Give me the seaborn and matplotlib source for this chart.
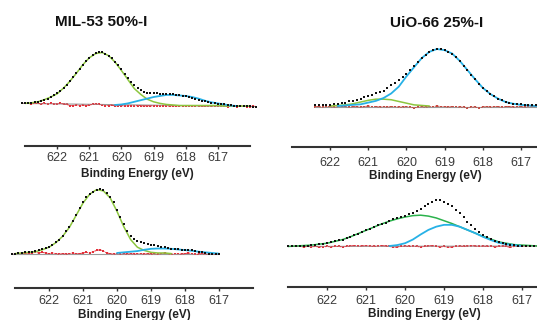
import numpy as np
import matplotlib
matplotlib.use("Agg")
import matplotlib.pyplot as plt
import seaborn as sns

# XPS I 3d fits, intensities normalised to the main peak (baseline ~0)
titles = ["MIL-53 50%-I", "UiO-66 25%-I", "", ""]
ticks = [622, 621, 620, 619, 618, 617]

# measured points (0.1 eV step), first energy given separately
raw_start = [623.1, 622.4, 623.1, 623.0]
raw_1 = [0.03, 0.03, 0.03, 0.04, 0.05, 0.06, 0.08, 0.10, 0.12, 0.15, 0.18, 0.22, 0.27, 0.32, 0.38,
         0.45, 0.52, 0.60, 0.68, 0.76, 0.83, 0.89, 0.94, 0.98, 1.00, 1.00, 0.97, 0.93, 0.88, 0.82,
         0.75, 0.67, 0.59, 0.51, 0.44, 0.38, 0.32, 0.28, 0.25, 0.23, 0.22, 0.22, 0.22, 0.21, 0.21,
         0.21, 0.20, 0.20, 0.19, 0.18, 0.17, 0.16, 0.15, 0.13, 0.11, 0.10, 0.08, 0.07, 0.05, 0.04,
         0.03, 0.02, 0.02, 0.01, 0.00, 0.00, -0.01, -0.01, -0.02, -0.02, -0.02, -0.02, -0.03, -0.03]
raw_2 = [0.01, 0.01, 0.01, 0.02, 0.02, 0.03, 0.04, 0.05, 0.06, 0.08, 0.09, 0.11, 0.13, 0.15, 0.17,
         0.19, 0.22, 0.24, 0.27, 0.31, 0.36, 0.40, 0.46, 0.51, 0.57, 0.63, 0.70, 0.77, 0.84, 0.90,
         0.94, 0.98, 1.00, 1.00, 0.98, 0.95, 0.92, 0.86, 0.79, 0.71, 0.63, 0.55, 0.47, 0.39, 0.32,
         0.26, 0.21, 0.17, 0.13, 0.10, 0.07, 0.06, 0.04, 0.03, 0.03, 0.02, 0.02, 0.01, 0.01, 0.01,
         0.01, 0.01, 0.01, 0.01, 0.01]
raw_3 = [-0.01, -0.01, 0.00, 0.00, 0.01, 0.01, 0.02, 0.03, 0.04, 0.06, 0.08, 0.10, 0.13, 0.17, 0.21,
         0.27, 0.34, 0.41, 0.50, 0.60, 0.70, 0.79, 0.87, 0.92, 0.96, 0.99, 1.00, 0.98, 0.94, 0.87,
         0.79, 0.67, 0.56, 0.45, 0.35, 0.27, 0.22, 0.19, 0.17, 0.15, 0.14, 0.13, 0.12, 0.11, 0.10,
         0.09, 0.08, 0.07, 0.07, 0.06, 0.05, 0.05, 0.04, 0.04, 0.03, 0.02, 0.01, 0.00, -0.01, -0.02,
         -0.02, -0.01]
raw_4 = [-0.01, -0.01, 0.00, 0.00, 0.01, 0.01, 0.02, 0.03, 0.04, 0.05, 0.06, 0.08, 0.10, 0.12, 0.14,
         0.17, 0.20, 0.23, 0.27, 0.30, 0.34, 0.37, 0.41, 0.45, 0.48, 0.51, 0.55, 0.58, 0.61, 0.64,
         0.66, 0.69, 0.72, 0.76, 0.81, 0.87, 0.92, 0.96, 0.99, 0.99, 0.96, 0.92, 0.86, 0.79, 0.71,
         0.62, 0.53, 0.45, 0.37, 0.30, 0.25, 0.20, 0.15, 0.11, 0.08, 0.06, 0.04, 0.03, 0.02, 0.01,
         0.01, 0.00, 0.00, 0.00, -0.01, -0.01, -0.01, -0.01, -0.01, -0.01, -0.01]

# residuals (0.1 eV step, same start as raw)
res_1 = [0.03, 0.03, 0.03, 0.02, 0.03, 0.03, 0.02, 0.03, 0.02, 0.03, 0.02, 0.02, 0.03, 0.02, 0.01,
         -0.01, -0.01, 0.00, -0.01, 0.00, -0.01, 0.00, 0.01, 0.02, 0.01, 0.00, -0.01, -0.01, 0.00, -0.02,
         -0.01, -0.01, -0.02, -0.01, -0.01, -0.02, -0.01, -0.01, -0.02, -0.01, -0.02, -0.01, -0.01, -0.02,
         -0.01, -0.02, -0.02, -0.01, -0.02, -0.01, -0.02, -0.02, -0.01, -0.02, -0.02, -0.01, -0.02, -0.02,
         -0.01, -0.02, -0.02, -0.02, -0.01, -0.02, -0.03, -0.02, -0.02, -0.03, -0.02, -0.02, -0.03, -0.03,
         -0.02, -0.03]
res_2 = [-0.01, -0.01, -0.02, -0.01, -0.01, -0.02, -0.01, 0.00, -0.01, -0.02, -0.01, -0.01, -0.02, -0.01,
         0.00, -0.01, -0.01, -0.02, -0.01, -0.02, -0.01, -0.01, -0.02, -0.02, -0.01, -0.02, -0.03, -0.02,
         -0.01, -0.02, -0.01, -0.01, 0.00, -0.01, -0.01, -0.02, -0.01, -0.01, -0.02, -0.02, -0.03, -0.02,
         -0.02, -0.03, -0.02, -0.01, -0.02, -0.01, -0.01, -0.02, -0.01, -0.01, -0.02, -0.01, -0.01, -0.02,
         -0.01, -0.01, -0.01, -0.01, -0.02, -0.01, -0.01, -0.01, -0.01]
res_3 = [-0.01, -0.01, 0.00, -0.01, 0.00, -0.01, 0.00, 0.01, 0.00, 0.01, 0.00, -0.01, 0.00, -0.01, -0.02,
         -0.01, -0.02, -0.01, 0.00, -0.01, -0.01, 0.00, 0.01, 0.00, 0.02, 0.04, 0.05, 0.03, 0.00, -0.01,
         -0.02, -0.01, -0.02, -0.01, -0.02, -0.01, -0.02, -0.01, -0.01, -0.02, -0.01, -0.02, -0.01, -0.02,
         -0.01, 0.00, -0.01, -0.02, -0.01, -0.01, -0.02, -0.01, 0.00, -0.01, -0.02, -0.02, -0.01, -0.02,
         -0.01, -0.02, -0.02, -0.01]
res_4 = [-0.01, -0.01, 0.00, -0.01, -0.02, -0.01, -0.02, -0.01, -0.02, -0.02, -0.01, -0.02, -0.01, -0.01,
         -0.02, -0.01, 0.00, 0.01, 0.00, 0.00, 0.01, 0.00, -0.01, 0.00, 0.01, 0.00, -0.01, -0.03, -0.02,
         -0.01, 0.00, -0.01, 0.00, -0.01, -0.02, -0.01, 0.00, 0.01, -0.01, -0.02, -0.01, -0.03, -0.02,
         -0.01, 0.00, -0.01, 0.00, 0.01, 0.00, -0.01, 0.00, -0.01, 0.00, -0.02, -0.01, 0.00, -0.01, -0.03,
         -0.01, 0.00, -0.01, 0.00, 0.01, 0.00, 0.00, -0.01, 0.00, 0.00, -0.01, -0.01, 0.00]

# fitted components (0.2 eV step)
green_start = [623.0, 622.0, 623.0, 623.0]
green_1 = [0.03, 0.04, 0.06, 0.10, 0.15, 0.21, 0.32, 0.45, 0.60, 0.76, 0.89, 0.97, 0.99, 0.93, 0.81,
           0.65, 0.48, 0.31, 0.20, 0.11, 0.06, 0.03, 0.01, 0.00, -0.01, -0.01, -0.01, -0.01, -0.01,
           -0.01, -0.01, -0.02, -0.02, -0.02, -0.02, -0.02]
green_2 = [0.00, 0.01, 0.02, 0.04, 0.07, 0.10, 0.12, 0.12, 0.11, 0.08, 0.05, 0.02, 0.01, 0.00]
green_3 = [-0.01, 0.00, 0.01, 0.02, 0.05, 0.09, 0.16, 0.26, 0.40, 0.59, 0.78, 0.92, 0.99, 0.97, 0.86,
           0.65, 0.41, 0.21, 0.09, 0.04, 0.01, 0.00, 0.00, -0.01]
green_4 = [-0.01, 0.00, 0.01, 0.02, 0.04, 0.06, 0.10, 0.14, 0.20, 0.27, 0.34, 0.41, 0.48, 0.54, 0.59,
           0.63, 0.66, 0.67, 0.65, 0.61, 0.55, 0.49, 0.42, 0.35, 0.28, 0.21, 0.15, 0.09, 0.06, 0.03,
           0.02, 0.01, 0.00]

cyan_start = [620.2, 621.8, 620.0, 620.4]
cyan_1 = [0.00, 0.01, 0.03, 0.06, 0.09, 0.12, 0.15, 0.17, 0.19, 0.19, 0.18, 0.17, 0.15, 0.12, 0.08,
          0.05, 0.03, 0.01, -0.01, -0.02]
cyan_2 = [0.00, 0.01, 0.02, 0.03, 0.06, 0.09, 0.14, 0.22, 0.34, 0.52, 0.68, 0.84, 0.95, 1.00, 0.98,
          0.92, 0.79, 0.63, 0.47, 0.32, 0.21, 0.13, 0.07, 0.04, 0.02, 0.01, 0.00, 0.00, 0.00, 0.00]
cyan_3 = [0.00, 0.01, 0.02, 0.03, 0.05, 0.065, 0.07, 0.07, 0.065, 0.055, 0.045, 0.035, 0.02, 0.01,
          0.00, -0.01]
cyan_4 = [0.00, 0.02, 0.06, 0.14, 0.25, 0.35, 0.42, 0.46, 0.46, 0.42, 0.35, 0.28, 0.20, 0.13, 0.07,
          0.04, 0.02, 0.00]

raws = [raw_1, raw_2, raw_3, raw_4]
resids = [res_1, res_2, res_3, res_4]
greens = [green_1, green_2, green_3, green_4]
cyans = [cyan_1, cyan_2, cyan_3, cyan_4]

# layout in pixels: left, right, spine y, top y, ylim, tick pad, label pad
W, H = 537, 320
layout = [
    (25, 250, 146, 40, (-0.774, 1.226), 2.0, 2.7),
    (292, 559, 147, 40, (-0.719, 1.158), 4.8, 0.7),
    (15, 253, 288, 180, (-0.547, 1.14), 2.7, 1.3),
    (288, 561, 287, 185, (-0.891, 1.326), 3.2, 0.6),
]
green_cols = ["#8cc63e", "#8cc63e", "#8cc63e", "#2bb24c"]
res_cols = ["#e3303a", "#c8463c", "#e3303a", "#e3303a"]
title_pos = [(101, 22), (437, 23)]

sns.set_theme(style="white")
plt.rcParams["font.family"] = ["Liberation Sans", "DejaVu Sans"]

fig = plt.figure(figsize=(W / 100, H / 100), dpi=100)


def energies(start, n, step):
    return start - step * np.arange(n)


for i, (l, r, sp, top, ylim, tpad, lpad) in enumerate(layout):
    ax = fig.add_axes([l / W, (H - sp) / H, (r - l) / W, (sp - top) / H])
    ax.set_facecolor("none")

    e_raw = energies(raw_start[i], len(raws[i]), 0.1)
    e_res = energies(raw_start[i], len(resids[i]), 0.1)
    e_g = energies(green_start[i], len(greens[i]), 0.2)
    e_c = energies(cyan_start[i], len(cyans[i]), 0.2)

    sns.lineplot(x=[e_raw[0], e_raw[-1]], y=[resids[i][0], resids[i][-1]], ax=ax,
                 color="#9a9a9a", lw=0.8, clip_on=False)
    sns.lineplot(x=e_res, y=resids[i], ax=ax, color=res_cols[i], lw=0.7,
                 ls=(0, (2, 1)), clip_on=False)
    sns.scatterplot(x=e_res, y=resids[i], ax=ax, color=res_cols[i], marker="s",
                    s=2.5, linewidth=0, clip_on=False)
    sns.lineplot(x=e_g, y=greens[i], ax=ax, color=green_cols[i], lw=1.1, clip_on=False)
    sns.lineplot(x=e_c, y=cyans[i], ax=ax, color="#27b1e6", lw=1.3, clip_on=False)
    sns.scatterplot(x=e_raw, y=raws[i], ax=ax, color="#111111", marker="s",
                    s=4, linewidth=0, clip_on=False, zorder=5)

    ax.set_xlim(623, 616)
    ax.set_ylim(*ylim)
    ax.set_xticks(ticks)
    ax.set_yticks([])
    for s in ["left", "right", "top"]:
        ax.spines[s].set_visible(False)
    ax.spines["bottom"].set_color("#333333")
    ax.spines["bottom"].set_linewidth(1.5)
    ax.tick_params(axis="x", direction="out", length=2.5, width=1, color="#333333",
                   labelsize=9, pad=tpad, labelcolor="#3a3a3a", bottom=True)
    ax.set_xlabel("Binding Energy (eV)", fontsize=8.5, fontweight="bold",
                  labelpad=lpad, color="#222222")
    ax.set_ylabel("")

for t, (tx, ty) in zip(titles, title_pos):
    fig.text(tx / W, 1 - ty / H, t, ha="center", va="center", fontsize=11,
             fontweight="bold", color="#111111")

fig.savefig("out.png", dpi=100)
